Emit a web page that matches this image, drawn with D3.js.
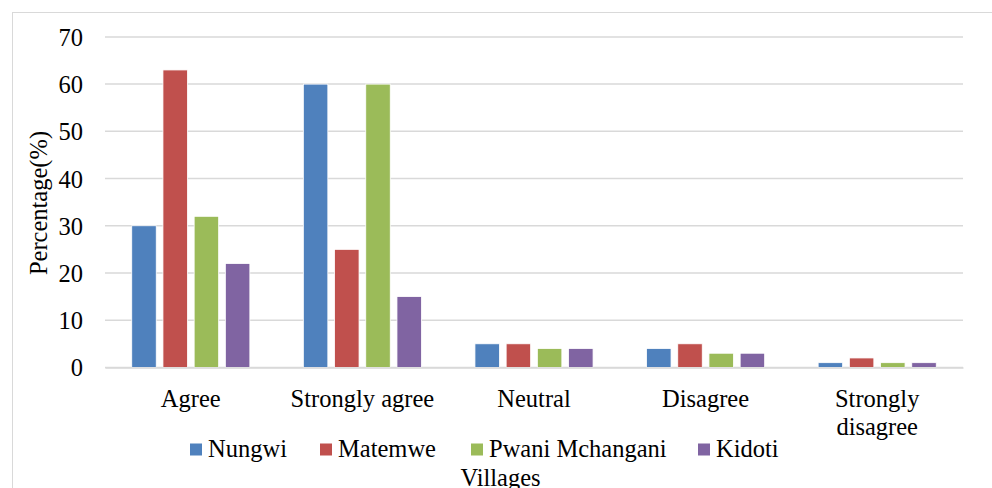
<!DOCTYPE html>
<html><head><meta charset="utf-8">
<script src="https://cdn.jsdelivr.net/npm/d3@7/dist/d3.min.js"></script>
<style>body{margin:0;background:#fff}svg{display:block}svg text{font-family:"Liberation Serif","Times New Roman",serif;fill:#000}</style>
</head><body>
<svg id="c" width="992" height="488"></svg>
<script>
const categories = ["Agree", "Strongly agree", "Neutral", "Disagree", "Strongly disagree"];
const seriesNames = ["Nungwi", "Matemwe", "Pwani Mchangani", "Kidoti"];
const nungwi = [30, 60, 5, 4, 1];
const matemwe = [63, 25, 5, 5, 2];
const pwaniMchangani = [32, 60, 4, 3, 1];
const kidoti = [22, 15, 4, 3, 1];
const yTicks = [0, 10, 20, 30, 40, 50, 60, 70];
const colors = ["#4F81BD", "#C0504D", "#9BBB59", "#8064A2"];
const seriesValues = [nungwi, matemwe, pwaniMchangani, kidoti];

(function () {
const svg = d3.select("#c");
const fs = 24.5;
svg.append("rect").attr("x", 12.5).attr("y", 12.5).attr("width", 1000).attr("height", 500)
  .attr("fill", "none").attr("stroke", "#d9d9d9");

const pL = 105, pR = 963, pT = 36.9, pB = 367.4;
const x = d3.scaleBand().domain(categories).range([pL, pR]);
const x1 = d3.scaleBand().domain(seriesNames).range([0, x.bandwidth()]).paddingInner(0.215).paddingOuter(0.857);
const y = d3.scaleLinear().domain([0, 70]).range([pB, pT]);

svg.append("g").selectAll("line").data(yTicks).join("line")
  .attr("x1", pL).attr("x2", pR)
  .attr("y1", d => y(d)).attr("y2", d => y(d))
  .attr("stroke", "#d9d9d9").attr("stroke-width", 1.5);

const yAxis = svg.append("g").attr("transform", `translate(${pL},0)`)
  .call(d3.axisLeft(y).tickValues(yTicks).tickSize(0).tickPadding(22));
yAxis.select(".domain").remove();
yAxis.attr("font-family", null).attr("font-size", null);
yAxis.selectAll("text").style("font-size", fs + "px").attr("dy", "0.35em");

seriesNames.forEach((s, si) => {
  svg.append("g").selectAll("rect").data(categories).join("rect")
    .attr("x", c => x(c) + x1(s))
    .attr("width", x1.bandwidth())
    .attr("y", (c, i) => y(seriesValues[si][i]))
    .attr("height", (c, i) => y(0) - y(seriesValues[si][i]))
    .attr("fill", colors[si]).attr("stroke", "#fff").attr("stroke-width", 0.8);
});

const xAxis = svg.append("g").attr("transform", `translate(0,${pB})`)
  .call(d3.axisBottom(x).tickSize(0).tickFormat(""));
xAxis.select(".domain").attr("stroke", "#d9d9d9").attr("stroke-width", 1.5);

const labelLines = {"Strongly disagree": ["Strongly", "disagree"]};
categories.forEach(c => {
  const lines = labelLines[c] || [c];
  const cx = x(c) + x.bandwidth() / 2;
  const t = svg.append("text").attr("x", cx).attr("y", 406.5)
    .attr("text-anchor", "middle").style("font-size", fs + "px");
  lines.forEach((l, i) => t.append("tspan").attr("x", cx).attr("dy", i ? 28 : 0).text(l));
});

svg.append("text").attr("transform", "translate(47,203) rotate(-90)")
  .attr("text-anchor", "middle").style("font-size", fs + "px").text("Percentage(%)");

const legendX = [190, 320, 471, 698];
const lg = svg.append("g");
seriesNames.forEach((s, i) => {
  lg.append("rect").attr("x", legendX[i]).attr("y", 443.5).attr("width", 12).attr("height", 12).attr("fill", colors[i]);
  lg.append("text").attr("x", legendX[i] + 18).attr("y", 456.5).style("font-size", fs + "px").text(s);
});
svg.append("text").attr("x", 500.5).attr("y", 485.5).attr("text-anchor", "middle")
  .style("font-size", fs + "px").text("Villages");
})();
</script>
</body></html>
